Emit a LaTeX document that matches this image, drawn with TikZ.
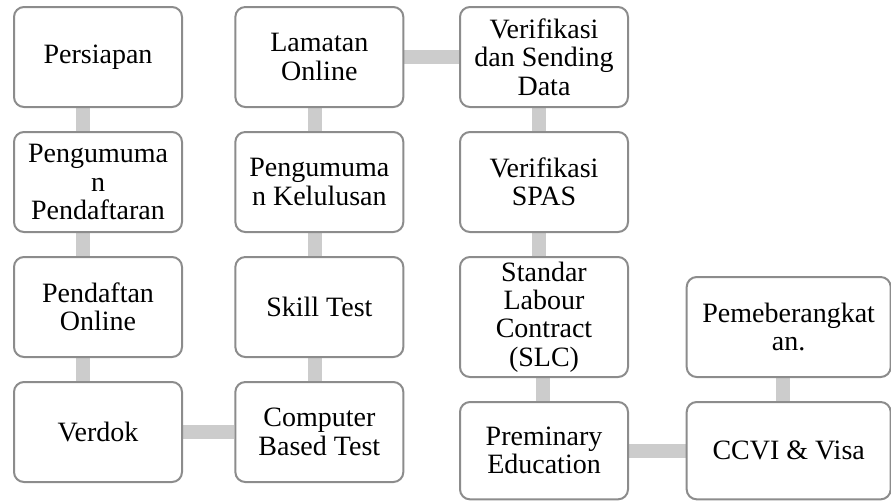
\documentclass[tikz,border=0pt]{standalone}
\usepackage{fontspec}
\setmainfont{Liberation Serif}
\usetikzlibrary{positioning, backgrounds}
\definecolor{boxline}{RGB}{140,140,140}
\definecolor{barfill}{RGB}{204,204,204}
\tikzstyle{stage} = [rectangle, draw=boxline, line width=1.5pt, fill=white, rounded corners=7.5pt, minimum width=126pt, minimum height=75pt, align=center, inner sep=2pt, font=\fontsize{21}{21.25}\selectfont]
\tikzstyle{bar} = [draw=barfill, line width=10.5pt]

\begin{document}
\begin{tikzpicture}[x=0.75pt, y=-0.75pt, node distance=17.25pt and 38.5pt]
        \useasboundingbox (0,0) rectangle (891,501);
        % Nodes
        \node [stage] (persiapan) at (98,57) {Persiapan};
        \node [stage, below=of persiapan] (umumdaftar) {Pengumuma\\n\\Pendaftaran};
        \node [stage, below=of umumdaftar] (daftar) {Pendaftan\\Online};
        \node [stage, below=of daftar] (verdok) {Verdok};

        \node [stage, right=of persiapan] (lamatan) {Lamatan\\Online};
        \node [stage, below=of lamatan] (lulus) {Pengumuma\\n Kelulusan};
        \node [stage, below=of lulus] (skill) {Skill Test};
        \node [stage, below=of skill] (cbt) {Computer\\Based Test};

        \node [stage, right=41pt of lamatan] (sending) {Verifikasi\\dan Sending\\Data};
        \node [stage, below=of sending] (spas) {Verifikasi\\SPAS};
        \node [stage, below=of spas, minimum height=90pt] (slc) {Standar\\Labour\\Contract\\(SLC)};
        \node [stage, below=of slc, minimum height=73pt] (preminary) {Preminary\\Education};

        \node [stage, right=42.5pt of preminary, minimum width=153pt, minimum height=73pt] (visa) {CCVI \& Visa};
        \node [stage, above=of visa, minimum width=153pt] (berangkat) {Pemeberangkat\\an.};

        % Bars
        \begin{scope}[on background layer]
        \path [bar] ([xshift=-11pt]persiapan.south) -- ([xshift=-11pt]umumdaftar.north);
        \path [bar] ([xshift=-11pt]umumdaftar.south) -- ([xshift=-11pt]daftar.north);
        \path [bar] ([xshift=-11pt]daftar.south) -- ([xshift=-11pt]verdok.north);
        \path [bar] (verdok.east) -- (cbt.west);
        \path [bar] ([xshift=-3pt]cbt.north) -- ([xshift=-3pt]skill.south);
        \path [bar] ([xshift=-3pt]skill.north) -- ([xshift=-3pt]lulus.south);
        \path [bar] ([xshift=-3pt]lulus.north) -- ([xshift=-3pt]lamatan.south);
        \path [bar] (lamatan.east) -- (sending.west);
        \path [bar] ([xshift=-4pt]sending.south) -- ([xshift=-4pt]spas.north);
        \path [bar] ([xshift=-4pt]spas.south) -- ([xshift=-4pt]slc.north);
        \path [bar] ([xshift=-1pt]slc.south) -- ([xshift=-1pt]preminary.north);
        \path [bar] (preminary.east) -- (visa.west);
        \path [bar] ([xshift=-4.5pt]visa.north) -- ([xshift=-4.5pt]berangkat.south);
        \end{scope}
\end{tikzpicture}
\end{document}
